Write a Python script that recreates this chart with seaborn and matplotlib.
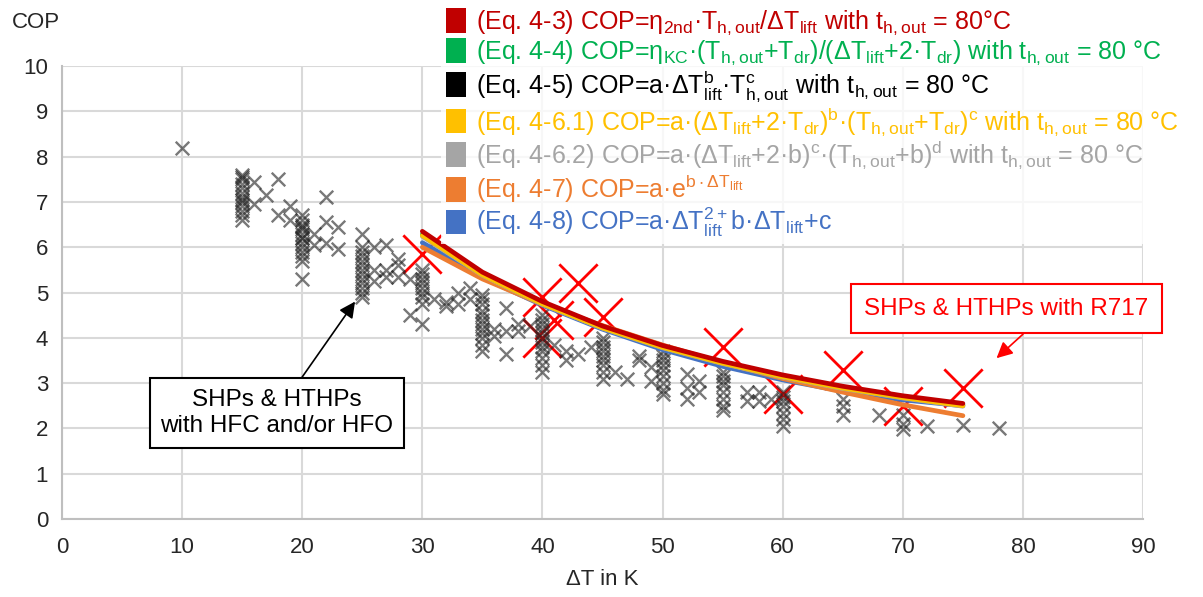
import numpy as np
import pandas as pd
import matplotlib
matplotlib.use("Agg")
import matplotlib.pyplot as plt
from matplotlib.patches import Patch
import seaborn as sns

# --- measured COP of heat pumps using HFC and/or HFO refrigerants ---
hfc_dt = (
    [10]
    + [15] * 13
    + [16, 16, 17, 18, 18, 19, 19]
    + [20] * 14
    + [21, 21, 22, 22, 22, 23, 23]
    + [25] * 13
    + [26, 26, 26, 27, 27, 27, 28, 28, 28, 29, 29]
    + [30] * 9
    + [31, 32, 32, 33, 33, 34, 34]
    + [35] * 12
    + [36, 36, 37, 37, 37, 38, 38, 39]
    + [40] * 12
    + [41, 42, 42, 43, 44]
    + [45] * 9
    + [46, 47, 48, 48, 49, 49]
    + [50] * 9
    + [52, 52, 52, 53, 53]
    + [55] * 8
    + [57, 57, 58, 58, 59]
    + [60] * 7
    + [65, 65, 65, 68, 70, 70, 70, 72, 75, 78]
)
hfc_cop = (
    [8.2]
    + [7.6, 7.5, 7.4, 7.3, 7.2, 7.1, 7.0, 6.9, 6.8, 6.7, 6.6, 7.55, 7.05]
    + [7.45, 6.95, 7.15, 7.5, 6.7, 6.9, 6.6]
    + [6.7, 6.6, 6.5, 6.4, 6.3, 6.2, 6.1, 6.0, 5.9, 5.8, 5.7, 6.45, 6.2, 5.3]
    + [6.3, 6.05, 7.1, 6.55, 6.1, 6.45, 5.95]
    + [6.3, 6.0, 5.9, 5.8, 5.7, 5.6, 5.5, 5.4, 5.3, 5.2, 5.1, 5.0, 4.9]
    + [6.0, 5.5, 5.25, 6.05, 5.5, 5.35, 5.75, 5.6, 5.35, 5.3, 4.5]
    + [5.5, 5.4, 5.3, 5.2, 5.1, 5.0, 4.9, 4.75, 4.3]
    + [4.85, 4.8, 4.7, 5.0, 4.75, 5.1, 4.85]
    + [4.95, 4.85, 4.75, 4.6, 4.5, 4.4, 4.3, 4.2, 4.1, 4.0, 3.85, 3.7]
    + [4.2, 4.05, 4.65, 4.15, 3.65, 4.3, 4.15, 4.25]
    + [4.5, 4.4, 4.3, 4.2, 4.1, 4.0, 3.9, 3.8, 3.7, 3.55, 3.4, 3.25]
    + [3.85, 3.7, 3.5, 3.65, 3.8]
    + [4.0, 3.9, 3.8, 3.7, 3.6, 3.5, 3.4, 3.25, 3.1]
    + [3.25, 3.1, 3.5, 3.6, 3.35, 3.05]
    + [3.7, 3.6, 3.5, 3.4, 3.3, 3.15, 3.0, 2.85, 2.75]
    + [3.2, 2.9, 2.65, 3.05, 2.8]
    + [3.25, 3.15, 3.05, 2.95, 2.8, 2.65, 2.5, 2.4]
    + [2.8, 2.6, 2.8, 2.6, 2.65]
    + [2.8, 2.7, 2.6, 2.5, 2.35, 2.2, 2.05]
    + [2.65, 2.5, 2.3, 2.3, 2.3, 2.1, 1.98, 2.05, 2.08, 2.0]
)

# --- measured COP of heat pumps using R717 ---
r717_dt = [30, 40, 40, 41, 43, 45, 55, 60, 65, 70, 75]
r717_cop = [5.85, 4.9, 4.0, 4.4, 5.2, 4.45, 3.8, 2.75, 3.3, 2.5, 2.9]

# --- model curves for t_h,out = 80 °C ---
model_dt = [30, 35, 40, 45, 50, 55, 60, 65, 70, 75]
cop_eq43 = [6.35, 5.45, 4.80, 4.26, 3.83, 3.48, 3.18, 2.93, 2.72, 2.55]
cop_eq44 = [6.28, 5.40, 4.76, 4.23, 3.80, 3.45, 3.15, 2.90, 2.69, 2.52]
cop_eq45 = [6.30, 5.42, 4.77, 4.24, 3.81, 3.45, 3.15, 2.90, 2.69, 2.51]
cop_eq461 = [6.26, 5.39, 4.75, 4.22, 3.79, 3.44, 3.14, 2.89, 2.68, 2.50]
cop_eq462 = [6.24, 5.38, 4.74, 4.21, 3.78, 3.43, 3.13, 2.88, 2.67, 2.49]
cop_eq47 = [6.00, 5.30, 4.74, 4.27, 3.84, 3.45, 3.10, 2.80, 2.52, 2.28]
cop_eq48 = [6.10, 5.33, 4.72, 4.19, 3.74, 3.37, 3.07, 2.82, 2.63, 2.50]

model_names = ["eq43", "eq44", "eq45", "eq461", "eq462", "eq47", "eq48"]
model_values = [cop_eq43, cop_eq44, cop_eq45, cop_eq461, cop_eq462, cop_eq47, cop_eq48]
model_colors = ["#C00000", "#00B050", "#000000", "#FFC000", "#A5A5A5", "#ED7D31", "#4472C4"]
model_labels = [
    "(Eq. 4-3) COP=η$_{2nd}$·T$_{h,out}$/ΔT$_{lift}$ with t$_{h,out}$ = 80°C",
    "(Eq. 4-4) COP=η$_{KC}$·(T$_{h,out}$+T$_{dr}$)/(ΔT$_{lift}$+2·T$_{dr}$) with t$_{h,out}$ = 80 °C",
    "(Eq. 4-5) COP=a·ΔT$_{lift}^{b}$·T$_{h,out}^{c}$ with t$_{h,out}$ = 80 °C",
    "(Eq. 4-6.1) COP=a·(ΔT$_{lift}$+2·T$_{dr}$)$^{b}$·(T$_{h,out}$+T$_{dr}$)$^{c}$ with t$_{h,out}$ = 80 °C",
    "(Eq. 4-6.2) COP=a·(ΔT$_{lift}$+2·b)$^{c}$·(T$_{h,out}$+b)$^{d}$ with t$_{h,out}$ = 80 °C",
    "(Eq. 4-7) COP=a·e$^{b\\cdot\\Delta T_{lift}}$",
    "(Eq. 4-8) COP=a·ΔT$_{lift}^{2+}$b·ΔT$_{lift}$+c",
]
# drawing order of the curves (last is on top)
draw_order = ["eq48", "eq47", "eq462", "eq44", "eq45", "eq461", "eq43"]

sns.set_style("white")
plt.rcParams["font.family"] = ["Liberation Sans", "DejaVu Sans"]
plt.rcParams["mathtext.default"] = "regular"

fig = plt.figure(figsize=(12.03, 5.97), dpi=100)
ax = fig.add_axes([0.0515, 0.1307, 0.8987, 0.7587])

hfc = pd.DataFrame({"dt": hfc_dt, "cop": hfc_cop})
r717 = pd.DataFrame({"dt": r717_dt, "cop": r717_cop})

sns.scatterplot(data=r717, x="dt", y="cop", marker="x", s=760, color="#FF0000",
                linewidth=2.0, ax=ax, zorder=3, legend=False)
sns.scatterplot(data=hfc, x="dt", y="cop", marker="x", s=95, color="#262626",
                alpha=0.62, linewidth=1.7, ax=ax, zorder=4, legend=False)

curves = pd.DataFrame({
    "dt": np.tile(model_dt, len(model_names)),
    "cop": np.concatenate(model_values),
    "model": np.repeat(model_names, len(model_dt)),
})
palette = dict(zip(model_names, model_colors))
for i, name in enumerate(draw_order):
    lw = 3.4 if name != "eq45" else 1.6
    sns.lineplot(data=curves[curves["model"] == name], x="dt", y="cop",
                 color=palette[name], linewidth=lw, ax=ax, zorder=5 + i,
                 legend=False, estimator=None)

ax.set_xlim(0, 90)
ax.set_ylim(0, 10)
ax.set_xticks(range(0, 91, 10))
ax.set_yticks(range(0, 11, 1))
ax.grid(True, color="#D9D9D9", linewidth=1.5)
ax.set_axisbelow(True)
for side in ["top", "right"]:
    ax.spines[side].set_visible(False)
for side in ["left", "bottom"]:
    ax.spines[side].set_color("#BFBFBF")
    ax.spines[side].set_linewidth(1.5)
ax.tick_params(axis="both", length=0, labelsize=16, colors="#262626")
ax.tick_params(axis="x", pad=13)
ax.tick_params(axis="y", pad=10)
ax.set_xlabel("ΔT in K", fontsize=16, color="#262626", labelpad=8)
ax.set_ylabel("")
fig.text(12 / 1203, 1 - 22 / 597, "COP", fontsize=16, color="#262626",
         ha="left", va="center")

# callout for HFC/HFO units
ax.annotate("SHPs & HTHPs\nwith HFC and/or HFO", xy=(24.4, 4.8), xytext=(17.9, 2.34),
            ha="center", va="center", fontsize=17.5, color="#000000", zorder=20,
            linespacing=1.25,
            bbox=dict(boxstyle="square,pad=0.45", fc="white", ec="black", lw=1.5),
            arrowprops=dict(arrowstyle="-|>", color="black", lw=1.2,
                            mutation_scale=24, shrinkA=0, shrinkB=0))

# callout for R717 units: boxed label plus a separate arrow from its lower edge
ax.text(78.6, 4.64, "SHPs & HTHPs with R717", ha="center", va="center",
        fontsize=17.5, color="#FF0000", zorder=20,
        bbox=dict(boxstyle="square,pad=0.55", fc="white", ec="#FF0000", lw=1.5))
ax.annotate("", xy=(77.8, 3.55), xytext=(80.0, 4.08), zorder=20,
            arrowprops=dict(arrowstyle="-|>", color="#FF0000", lw=1.2,
                            mutation_scale=24, shrinkA=0, shrinkB=0))

handles = [Patch(facecolor=c, edgecolor="none") for c in model_colors]
leg = fig.legend(handles, model_labels, loc="upper left",
                 bbox_to_anchor=(441 / 1203, 1 - 3 / 597), fontsize=18,
                 frameon=True, fancybox=False, framealpha=0.8, facecolor="white",
                 edgecolor="none", handlelength=0.8, handleheight=1.15,
                 labelspacing=0.05, handletextpad=0.4, borderpad=0.2,
                 borderaxespad=0)
leg.set_zorder(30)
for txt, c in zip(leg.get_texts(), model_colors):
    txt.set_color(c)

fig.savefig("out.png", dpi=100)
